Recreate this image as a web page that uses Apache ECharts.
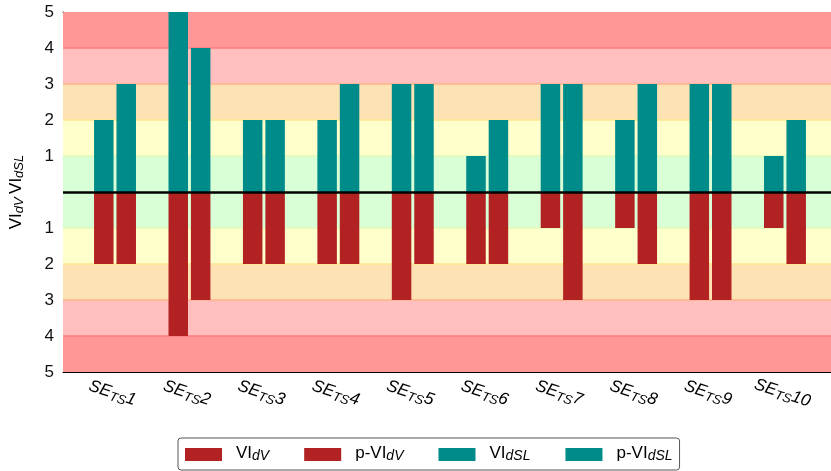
<!DOCTYPE html>
<html><head><meta charset="utf-8">
<script src="https://cdn.jsdelivr.net/npm/echarts@6/dist/echarts.min.js"></script>
<style>html,body{margin:0;padding:0;background:#fff}#c{width:831px;height:471px}</style>
</head><body><div id="c"></div>
<script>
// ---- data ----
const categories = ['1','2','3','4','5','6','7','8','9','10'];
const viDV   = [2,4,2,2,3,2,1,1,3,1];
const pviDV  = [2,3,2,2,2,2,3,2,3,2];
const viDSL  = [2,5,2,2,3,1,3,2,3,1];
const pviDSL = [3,4,2,3,3,2,3,3,3,2];
const yTickLabels = ['5','4','3','2','1','','1','2','3','4','5'];
const bandEdges = [0,1,2,3,4,5];
const seriesNames = ['VI_dV','p-VI_dV','VI_dSL','p-VI_dSL'];

// ---- styles ----
const bandColors = ['#d9ffd7','#ffffcc','#fde2b4','#ffbfbf','#ff9797'];
const edgeColors = ['#e2f9b8','#ffe48e','#ffb48c','#ff7c7c'];
const RED = '#b22222', TEAL = '#008b8b';
const FONT = 'Liberation Sans';

const markAreaData = [];
const markLineData = [];
for (let i = 0; i < bandColors.length; i++) {
  const a = bandEdges[i], b = bandEdges[i+1];
  markAreaData.push([{yAxis: a, itemStyle:{color: bandColors[i]}}, {yAxis: b}]);
  markAreaData.push([{yAxis: -b, itemStyle:{color: bandColors[i]}}, {yAxis: -a}]);
}
for (let i = 1; i < bandEdges.length - 1; i++) {
  const c = edgeColors[i-1];
  markLineData.push({yAxis: bandEdges[i], lineStyle:{color:c}});
  markLineData.push({yAxis: -bandEdges[i], lineStyle:{color:c}});
}

const legendLabel = {
  'VI_dV': '{t|VI}{s|dV}',
  'p-VI_dV': '{t|p-VI}{s|dV}',
  'VI_dSL': '{t|VI}{s|dSL}',
  'p-VI_dSL': '{t|p-VI}{s|dSL}'
};

const chart = echarts.init(document.getElementById('c'), null, {renderer:'canvas'});
const option = {
  animation: false,
  textStyle: {fontFamily: FONT},
  grid: [
    {left: 59, right: -2, top: 12, bottom: 99},
    {left: 77.8, right: 8.8, top: 12, bottom: 99}
  ],
  xAxis: [
    {gridIndex:0, type:'value', min:0, max:1, position:'bottom',
     axisLine:{show:true, onZero:false, lineStyle:{color:'#000', width:1}},
     axisTick:{show:false}, axisLabel:{show:false}, splitLine:{show:false}},
    {gridIndex:0, type:'value', min:0, max:1, position:'top',
     axisLine:{show:true, onZero:false, lineStyle:{color:'#000', width:1}},
     axisTick:{show:false}, axisLabel:{show:false}, splitLine:{show:false}},
    {gridIndex:1, type:'category', data: categories, position:'bottom',
     axisLine:{show:false, onZero:false},
     axisTick:{show:true, inside:true, alignWithLabel:true, length:6, lineStyle:{color:'#000'}},
     axisLabel:{
       rotate:-18, margin:13, align:'center', verticalAlign:'top',
       formatter: v => '{a|SE}{b|TS}{a|' + v + '}',
       rich:{
         a:{fontFamily:FONT, fontStyle:'italic', fontSize:17, color:'#000', lineHeight:20, verticalAlign:'top'},
         b:{fontFamily:FONT, fontStyle:'italic', fontSize:13, color:'#000', lineHeight:20, verticalAlign:'top', padding:[6,0,0,0]}
       }
     }},
    {gridIndex:1, type:'category', data: categories, position:'top',
     axisLine:{show:false, onZero:false},
     axisTick:{show:true, inside:true, alignWithLabel:true, length:6, lineStyle:{color:'#000'}},
     axisLabel:{show:false}}
  ],
  yAxis: [
    {gridIndex:0, type:'value', min:-5, max:5, interval:1,
     axisLine:{show:true, onZero:false, lineStyle:{color:'#000', width:1}},
     axisTick:{show:true, inside:true, length:6, lineStyle:{color:'#000'}},
     splitLine:{show:false},
     axisLabel:{margin:9, fontSize:17, color:'#111', fontFamily:FONT,
       formatter: v => yTickLabels[Math.round(v) + 5]},
     name: '{t|VI}{s|dV} {t|VI}{s|dSL}',
     nameLocation:'middle', nameRotate:90, nameGap:35,
     nameTextStyle:{
       rich:{
         t:{fontFamily:FONT, fontSize:17, color:'#000', lineHeight:20, verticalAlign:'top'},
         s:{fontFamily:FONT, fontSize:13, fontStyle:'italic', color:'#000', lineHeight:20, verticalAlign:'top', padding:[5,0,0,0]}
       }
     }},
    {gridIndex:1, type:'value', min:-5, max:5, interval:1, show:false}
  ],
  legend: {
    data: seriesNames,
    left: 178, top: 438,
    padding: [7, 7, 7, 7],
    itemGap: 35, itemWidth: 37, itemHeight: 13,
    icon: 'rect',
    borderColor: '#555', borderWidth: 1, borderRadius: 3,
    formatter: n => legendLabel[n],
    textStyle: {
      rich: {
        t:{fontFamily:FONT, fontSize:17, color:'#000', lineHeight:19, verticalAlign:'top', padding:[0,0,0,9]},
        s:{fontFamily:FONT, fontSize:14, fontStyle:'italic', color:'#000', lineHeight:19, verticalAlign:'top', padding:[4,0,0,0]}
      }
    }
  },
  series: [
    {type:'line', xAxisIndex:0, yAxisIndex:0, data:[], z:1, silent:true,
     markArea:{silent:true, data: markAreaData},
     markLine:{silent:true, symbol:'none', label:{show:false}, lineStyle:{type:'solid', width:1.5}, data: markLineData}},
    {name:'VI_dV', type:'bar', xAxisIndex:2, yAxisIndex:1, stack:'left', z:7,
     barWidth:19.5, barGap:'15%', itemStyle:{color:RED},
     data: viDV.map(v => -v)},
    {name:'p-VI_dV', type:'bar', xAxisIndex:2, yAxisIndex:1, stack:'right', z:7,
     barWidth:19.5, barGap:'15%', itemStyle:{color:RED},
     data: pviDV.map(v => -v)},
    {name:'VI_dSL', type:'bar', xAxisIndex:2, yAxisIndex:1, stack:'left', z:7,
     barWidth:19.5, barGap:'15%', itemStyle:{color:TEAL},
     data: viDSL},
    {name:'p-VI_dSL', type:'bar', xAxisIndex:2, yAxisIndex:1, stack:'right', z:7,
     barWidth:19.5, barGap:'15%', itemStyle:{color:TEAL},
     data: pviDSL},
    {type:'line', xAxisIndex:0, yAxisIndex:0, data:[], z:10, silent:true,
     markLine:{silent:true, z:12, symbol:'none', label:{show:false},
       lineStyle:{type:'solid', color:'#000', width:2.5}, data:[{yAxis:0}]}}
  ]
};
chart.setOption(option);
</script>
</body></html>
